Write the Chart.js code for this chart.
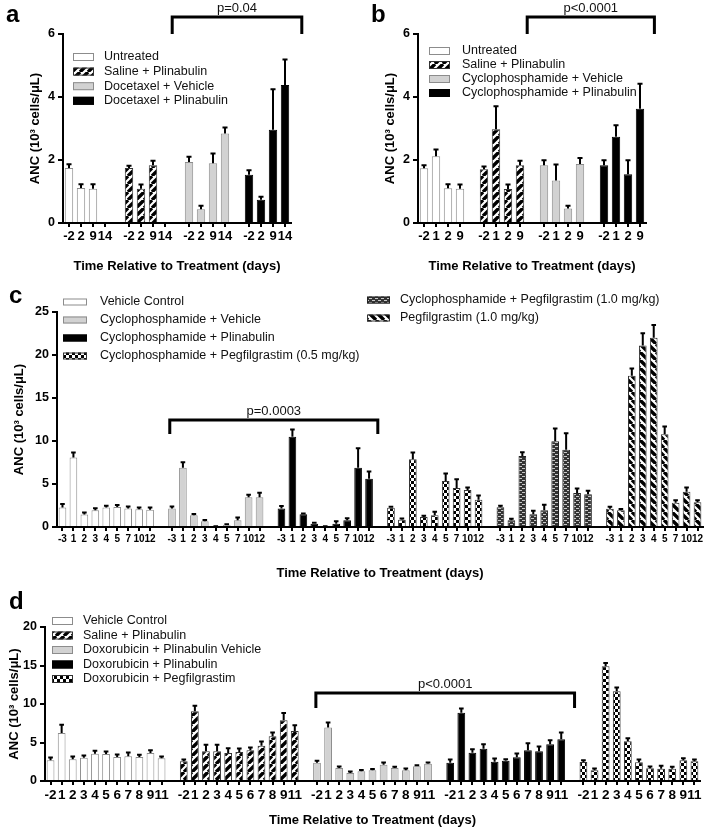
<!DOCTYPE html>
<html>
<head>
<meta charset="utf-8">
<script src="https://cdn.jsdelivr.net/npm/chart.js@4"></script>
<style>
  body { margin: 0; background: #fff; width: 710px; height: 830px; position: relative; overflow: hidden; font-family: 'Liberation Sans', Arial, sans-serif; }
  canvas { position: absolute; }
  .lt { position: absolute; font-weight: bold; font-size: 24px; line-height: 1; }
</style>
</head>
<body>
<canvas id="ca" width="355" height="290" style="left:0;top:0"></canvas>
<canvas id="cb" width="355" height="290" style="left:355px;top:0"></canvas>
<canvas id="cc" width="710" height="302" style="left:0;top:280px"></canvas>
<canvas id="cd" width="710" height="250" style="left:0;top:580px"></canvas>
<div class="lt" style="left:6px;top:2px">a</div>
<div class="lt" style="left:371px;top:2px">b</div>
<div class="lt" style="left:9px;top:283px">c</div>
<div class="lt" style="left:9px;top:589px">d</div>
<script>
// ---- panel a ----
const aGroups = ['Untreated', 'Saline + Plinabulin', 'Docetaxel + Vehicle', 'Docetaxel + Plinabulin'];
const aTicks = ['-2', '2', '9', '14'];
const aValues = [
  [1.75, 1.11, 1.09, null],
  [1.75, 1.09, 1.83, null],
  [1.94, 0.44, 1.90, 2.84],
  [1.53, 0.74, 2.96, 4.38]
];
const aErrors = [
  [0.13, 0.14, 0.16, null],
  [0.08, 0.15, 0.16, null],
  [0.18, 0.12, 0.32, 0.21],
  [0.16, 0.11, 1.30, 0.83]
];

// ---- panel b ----
const bGroups = ['Untreated', 'Saline + Plinabulin', 'Cyclophosphamide + Vehicle', 'Cyclophosphamide + Plinabulin'];
const bTicks = ['-2', '1', '2', '9'];
const bValues = [
  [1.74, 2.12, 1.10, 1.09],
  [1.71, 2.98, 1.08, 1.83],
  [1.83, 1.35, 0.46, 1.87],
  [1.83, 2.74, 1.55, 3.63]
];
const bErrors = [
  [0.11, 0.23, 0.15, 0.15],
  [0.10, 0.74, 0.16, 0.16],
  [0.18, 0.52, 0.10, 0.21],
  [0.18, 0.38, 0.46, 0.81]
];

// ---- panel c ----
const cGroups = ['Vehicle Control', 'Cyclophosphamide + Vehicle', 'Cyclophosphamide + Plinabulin',
  'Cyclophosphamide + Pegfilgrastim (0.5 mg/kg)', 'Cyclophosphamide + Pegfilgrastim (1.0 mg/kg)', 'Pegfilgrastim (1.0 mg/kg)'];
const cTicks = ['-3', '1', '2', '3', '4', '5', '7', '10', '12'];
const cValues = [
  [2.26, 8.09, 1.44, 1.94, 2.26, 2.33, 2.14, 2.06, 2.02],
  [2.14, 6.88, 1.36, 0.66, 0.05, 0.27, 0.78, 3.46, 3.46],
  [2.14, 10.5, 1.48, 0.39, 0.05, 0.39, 0.78, 6.90, 5.62],
  [2.25, 0.85, 7.87, 1.16, 1.36, 5.35, 4.53, 4.30, 3.18],
  [2.29, 0.78, 8.26, 1.47, 1.94, 9.96, 8.99, 3.95, 3.80],
  [2.13, 1.94, 17.6, 21.1, 22.0, 10.78, 2.83, 4.10, 2.87]
];
const cErrors = [
  [0.46, 0.62, 0.30, 0.30, 0.27, 0.30, 0.30, 0.27, 0.30],
  [0.30, 0.70, 0.20, 0.20, 0.10, 0.12, 0.39, 0.35, 0.58],
  [0.35, 0.89, 0.16, 0.16, 0.10, 0.35, 0.31, 2.32, 0.89],
  [0.15, 0.20, 0.85, 0.20, 0.47, 0.93, 1.09, 0.35, 0.54],
  [0.23, 0.23, 0.50, 0.47, 0.70, 1.55, 1.98, 0.58, 0.47],
  [0.27, 0.20, 0.90, 1.50, 1.55, 0.97, 0.35, 0.54, 0.31]
];

// ---- panel d ----
const dGroups = ['Vehicle Control', 'Saline + Plinabulin', 'Doxorubicin + Plinabulin Vehicle',
  'Doxorubicin + Plinabulin', 'Doxorubicin + Pegfilgrastim'];
const dTicks = ['-2', '1', '2', '3', '4', '5', '6', '7', '8', '9', '11'];
const dValues = [
  [2.68, 6.23, 2.81, 3.03, 3.55, 3.50, 3.12, 3.20, 3.12, 3.64, 2.94],
  [2.55, 9.05, 3.85, 3.85, 3.64, 3.77, 3.98, 4.59, 5.80, 7.88, 6.49],
  [2.38, 6.95, 1.69, 1.04, 1.26, 1.39, 2.12, 1.69, 1.39, 1.90, 2.25],
  [2.38, 8.87, 3.68, 4.20, 2.51, 2.64, 3.07, 3.98, 3.85, 4.76, 5.41],
  [2.47, 1.39, 14.9, 11.65, 5.15, 2.42, 1.65, 1.60, 1.60, 2.68, 2.55]
];
const dErrors = [
  [0.43, 1.13, 0.43, 0.35, 0.43, 0.39, 0.39, 0.56, 0.35, 0.43, 0.30],
  [0.30, 0.78, 0.91, 0.91, 0.69, 0.52, 0.43, 0.61, 0.56, 1.00, 0.82],
  [0.30, 0.70, 0.26, 0.26, 0.22, 0.22, 0.35, 0.22, 0.30, 0.22, 0.22],
  [0.48, 0.61, 0.52, 0.65, 0.48, 0.26, 0.56, 1.00, 0.69, 0.61, 0.95],
  [0.30, 0.30, 0.48, 0.56, 0.48, 0.43, 0.30, 0.43, 0.30, 0.35, 0.30]
];

const FONT = "'Liberation Sans', Arial, sans-serif";
const XTITLE = 'Time Relative to Treatment (days)';
const YTITLE = 'ANC (10\u00b3 cells/\u03bcL)';

// fill patterns
function tile(w, h, draw) {
  const c = document.createElement('canvas');
  c.width = w; c.height = h;
  const g = c.getContext('2d');
  draw(g);
  return g.createPattern(c, 'repeat');
}
function stripes(dir) {
  return tile(8, 8, g => {
    g.fillStyle = '#fff'; g.fillRect(0, 0, 8, 8);
    g.strokeStyle = '#000'; g.lineWidth = 3.4; g.beginPath();
    for (const k of [-8, 0, 8]) {
      if (dir > 0) { g.moveTo(k, 8); g.lineTo(k + 8, 0); }
      else { g.moveTo(k, 0); g.lineTo(k + 8, 8); }
    }
    g.stroke();
  });
}
const STYLES = {
  white: { fill: '#fff', line: '#8c8c8c' },
  gray: { fill: '#d2d2d2', line: '#8c8c8c' },
  black: { fill: '#000', line: '#000' },
  stripeR: { fill: stripes(1), line: '#333' },
  stripeL: { fill: stripes(-1), line: '#333' },
  checker: { fill: tile(6, 6, g => {
    g.fillStyle = '#fff'; g.fillRect(0, 0, 6, 6);
    g.fillStyle = '#000'; g.fillRect(0, 0, 3, 3); g.fillRect(3, 3, 3, 3);
  }), line: '#333' },
  brick: { fill: tile(6, 4, g => {
    g.fillStyle = '#333'; g.fillRect(0, 0, 6, 4);
    g.fillStyle = '#c8c8c8'; g.fillRect(0, 0, 3, 1); g.fillRect(3, 2, 3, 1);
  }), line: '#222' }
};

// error bars, legend and significance bracket
const deco = {
  id: 'deco',
  afterDatasetsDraw(chart) {
    const ctx = chart.ctx, y = chart.scales.y;
    chart.data.datasets.forEach((ds, i) => {
      const meta = chart.getDatasetMeta(i);
      meta.data.forEach((bar, j) => {
        const v = ds.data[j], e = ds.err[j];
        if (v == null || e == null) return;
        const top = y.getPixelForValue(v + e);
        const w = bar.width * 0.6;
        ctx.save();
        ctx.strokeStyle = '#000'; ctx.lineWidth = 2;
        ctx.beginPath();
        ctx.moveTo(bar.x, bar.y); ctx.lineTo(bar.x, top);
        ctx.moveTo(bar.x - w / 2, top + 0.5); ctx.lineTo(bar.x + w / 2, top + 0.5);
        ctx.stroke();
        ctx.restore();
      });
    });
  },
  afterDraw(chart, args, o) {
    const ctx = chart.ctx;
    ctx.save();
    (o.legend || []).forEach(col => {
      for (let k = col.from; k <= col.to; k++) {
        const ds = chart.data.datasets[k];
        const yy = col.y + (k - col.from) * col.row;
        ctx.fillStyle = ds.backgroundColor;
        ctx.fillRect(col.x, yy - col.sh / 2, col.sw, col.sh);
        ctx.strokeStyle = ds.borderColor; ctx.lineWidth = 1;
        ctx.strokeRect(col.x + 0.5, yy - col.sh / 2 + 0.5, col.sw - 1, col.sh - 1);
        ctx.fillStyle = '#111';
        ctx.font = col.font + 'px ' + FONT;
        ctx.textBaseline = 'middle'; ctx.textAlign = 'left';
        ctx.fillText(ds.label, col.tx, yy);
      }
    });
    const b = o.bracket;
    if (b) {
      const xs = chart.scales.x, ys = chart.scales.y;
      const x1 = xs.getPixelForValue(b.from), x2 = xs.getPixelForValue(b.to);
      const yt = ys.getPixelForValue(b.top), yb = ys.getPixelForValue(b.bottom);
      ctx.strokeStyle = '#000'; ctx.lineWidth = 3; ctx.lineJoin = 'miter';
      ctx.beginPath();
      ctx.moveTo(x1, yb); ctx.lineTo(x1, yt); ctx.lineTo(x2, yt); ctx.lineTo(x2, yb);
      ctx.stroke();
      ctx.fillStyle = '#111';
      ctx.font = '13px ' + FONT;
      ctx.textAlign = 'center'; ctx.textBaseline = 'alphabetic';
      ctx.fillText(b.text, (x1 + x2) / 2, yt - 5);
    }
    ctx.restore();
  }
};

function buildPanel(id, p) {
  const labels = [];
  p.groups.forEach((g, gi) => {
    labels.push(...p.ticks);
    if (gi < p.groups.length - 1) labels.push('');
  });
  const step = p.ticks.length + 1;
  const datasets = p.groups.map((name, gi) => {
    const data = labels.map(() => null), err = labels.map(() => null);
    p.values[gi].forEach((v, i) => { data[gi * step + i] = v; err[gi * step + i] = p.errors[gi][i]; });
    const st = STYLES[p.styles[gi]];
    return { label: name, data, err, backgroundColor: st.fill, borderColor: st.line, borderWidth: 1 };
  });
  return new Chart(document.getElementById(id), {
    type: 'bar',
    data: { labels, datasets },
    plugins: [deco],
    options: {
      responsive: false, animation: false, events: [],
      layout: { padding: p.pad },
      datasets: { bar: { grouped: false, barPercentage: 0.7, categoryPercentage: 1 } },
      plugins: {
        legend: { display: false }, tooltip: { enabled: false },
        deco: { legend: p.legend, bracket: p.bracket }
      },
      scales: {
        x: {
          grid: {
            drawOnChartArea: false, offset: false, tickLength: 4, lineWidth: 2,
            color: c => (c.tick && c.tick.label) ? '#000' : 'rgba(0,0,0,0)'
          },
          border: { color: '#000', width: 2, z: 1 },
          ticks: { autoSkip: false, maxRotation: 0, minRotation: 0, color: '#000', padding: 2,
            font: { family: FONT, size: p.xFont, weight: 'bold' } },
          title: { display: true, text: XTITLE, color: '#000', padding: 0,
            font: { family: FONT, size: 13, weight: 'bold' } },
          afterFit: s => { s.height = p.xh; }
        },
        y: {
          min: 0, max: p.yMax,
          ticks: { stepSize: p.yStep, color: '#000', padding: 3,
            font: { family: FONT, size: 12.5, weight: 'bold' } },
          grid: { drawOnChartArea: false, tickLength: 5, lineWidth: 2, color: '#000' },
          border: { color: '#000', width: 2, z: 1 },
          title: { display: true, text: YTITLE, color: '#000', padding: 0,
            font: { family: FONT, size: 13, weight: 'bold' } },
          afterFit: s => { s.width = p.yw; }
        }
      }
    }
  });
}

buildPanel('ca', {
  groups: aGroups, ticks: aTicks, values: aValues, errors: aErrors,
  styles: ['white', 'stripeR', 'gray', 'black'],
  yMax: 6, yStep: 2, xFont: 13, yw: 35, xh: 51,
  pad: { top: 34, left: 28, right: 64, bottom: 16 },
  legend: [{ x: 73, y: 57, row: 14.6, sw: 21, sh: 8, tx: 104, font: 12.5, from: 0, to: 3 }],
  bracket: { from: 8.6, to: 19.4, top: 6.54, bottom: 6.0, text: 'p=0.04' }
});
buildPanel('cb', {
  groups: bGroups, ticks: bTicks, values: bValues, errors: bErrors,
  styles: ['white', 'stripeR', 'gray', 'black'],
  yMax: 6, yStep: 2, xFont: 13, yw: 35, xh: 51,
  pad: { top: 34, left: 28, right: 64, bottom: 16 },
  legend: [{ x: 74, y: 51, row: 14, sw: 21, sh: 8, tx: 107, font: 12.5, from: 0, to: 3 }],
  bracket: { from: 8.6, to: 19.2, top: 6.54, bottom: 6.0, text: 'p<0.0001' }
});
buildPanel('cc', {
  groups: cGroups, ticks: cTicks, values: cValues, errors: cErrors,
  styles: ['white', 'gray', 'black', 'checker', 'brick', 'stripeL'],
  yMax: 25, yStep: 5, xFont: 10, yw: 45, xh: 54,
  pad: { top: 32, left: 12, right: 7, bottom: 1 },
  legend: [
    { x: 63, y: 22, row: 18, sw: 24, sh: 7, tx: 100, font: 12.5, from: 0, to: 3 },
    { x: 367, y: 20, row: 18, sw: 23, sh: 7, tx: 400, font: 12.5, from: 4, to: 5 }
  ],
  bracket: { from: 9.8, to: 28.8, top: 12.44, bottom: 10.8, text: 'p=0.0003' }
});
buildPanel('cd', {
  groups: dGroups, ticks: dTicks, values: dValues, errors: dErrors,
  styles: ['white', 'stripeR', 'gray', 'black', 'checker'],
  yMax: 20, yStep: 5, xFont: 13.5, yw: 38, xh: 47,
  pad: { top: 47, left: 7, right: 10, bottom: 2 },
  legend: [{ x: 52, y: 41, row: 14.5, sw: 21, sh: 8, tx: 83, font: 12.5, from: 0, to: 4 }],
  bracket: { from: 23.9, to: 47.2, top: 11.43, bottom: 9.48, text: 'p<0.0001' }
});
</script>
</body>
</html>
